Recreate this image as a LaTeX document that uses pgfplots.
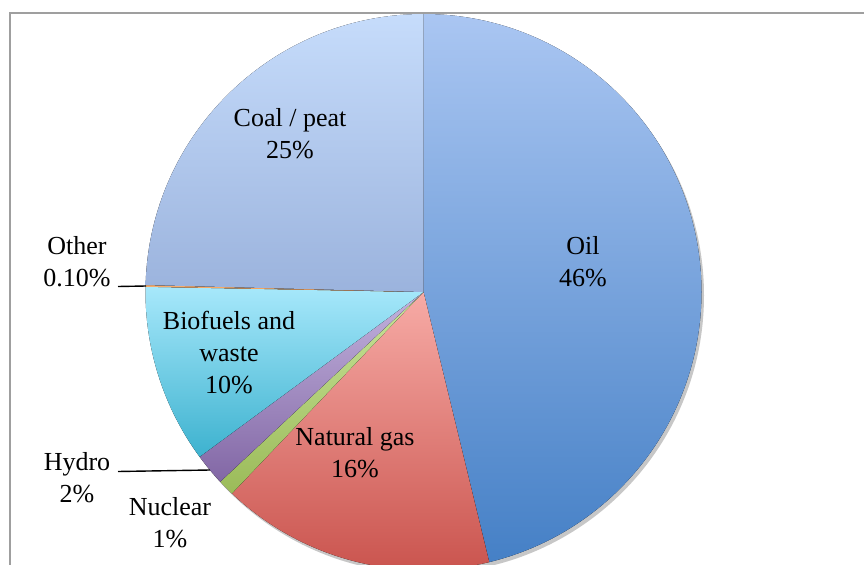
\documentclass[border=0pt]{standalone}
\usepackage{pgfplots}
\usepackage{pgfplotstable}
\pgfplotsset{compat=1.18}
\usepackage{fontspec}
\setmainfont{Liberation Serif}

\definecolor{oilT}{HTML}{AAC6F2}\definecolor{oilB}{HTML}{4580C6}
\definecolor{gasT}{HTML}{F7ABA6}\definecolor{gasB}{HTML}{C8504A}
\definecolor{nucT}{HTML}{C8E39A}\definecolor{nucB}{HTML}{9BBB59}
\definecolor{hydT}{HTML}{C3B3DE}\definecolor{hydB}{HTML}{8267A5}
\definecolor{bioT}{HTML}{A7E8FB}\definecolor{bioB}{HTML}{3DB2CF}
\definecolor{othT}{HTML}{F9B070}\definecolor{othB}{HTML}{F79646}
\definecolor{coalT}{HTML}{C6DCFB}\definecolor{coalB}{HTML}{9BB3DD}

% share of each slice (percent), clockwise from 12 o'clock
\pgfplotstableread{
name value top bottom
Oil 46.2 oilT oilB
Gas 15.9 gasT gasB
Nuclear 0.95 nucT nucB
Hydro 1.85 hydT hydB
Biofuels 10.4 bioT bioB
Other 0.1 othT othB
Coal 24.6 coalT coalB
}\piedata

\begin{document}
\begin{tikzpicture}
\begin{axis}[
  x=0.5pt, y=0.5pt,
  xmin=-423.5, xmax=440.5, ymin=-272, ymax=292,
  hide axis, clip=true,
]
\coordinate (SW) at (rel axis cs:0,0);
\coordinate (NE) at (rel axis cs:1,1);
% frame
\draw[gray!75, line width=0.6pt] (axis cs:-413.5,-300) -- (axis cs:-413.5,279) -- (axis cs:460,279);
\pgfplotsextra{
  % shadow
  \fill[black, opacity=0.22] (axis cs:2.5,-3.5) circle[radius=139pt];
  \pgfplotstablegetrowsof{\piedata}
  \pgfmathtruncatemacro\nrows{\pgfplotsretval-1}
  \xdef\cumangle{90}
  \foreach \i in {0,...,\nrows}{
    \pgfplotstablegetelem{\i}{value}\of\piedata \let\v\pgfplotsretval
    \pgfplotstablegetelem{\i}{top}\of\piedata \let\tc\pgfplotsretval
    \pgfplotstablegetelem{\i}{bottom}\of\piedata \let\bc\pgfplotsretval
    \pgfmathsetmacro\endangle{\cumangle-3.6*\v}
    \fill[top color=\tc, bottom color=\bc]
      (axis cs:0,0) -- ++(\cumangle:139pt)
      arc[start angle=\cumangle, end angle=\endangle, radius=139pt] -- cycle;
    \xdef\cumangle{\endangle}
  }
}
% leader lines
\draw[black, line width=0.7pt] (axis cs:-305.5,5.5) -- (axis cs:-277.5,6);
\draw[black, line width=0.7pt] (axis cs:-305.5,-179.5) -- (axis cs:-213.5,-178);
% labels
\begin{scope}[every node/.style={align=center, font=\fontsize{13}{16}\selectfont, inner sep=0pt}]
\node at (axis cs:-133.5,158.5) {Coal / peat\\25\%};
\node at (axis cs:159.5,30.5) {Oil\\46\%};
\node at (axis cs:-194.5,-61) {Biofuels and\\waste\\10\%};
\node at (axis cs:-68.5,-160.5) {Natural gas\\16\%};
\node at (axis cs:-346.5,30) {Other\\0.10\%};
\node at (axis cs:-346.5,-186) {Hydro\\2\%};
\node at (axis cs:-253.5,-231) {Nuclear\\1\%};
\end{scope}
\end{axis}
\pgfresetboundingbox
\path[use as bounding box] (SW) rectangle (NE);
\end{tikzpicture}
\end{document}
